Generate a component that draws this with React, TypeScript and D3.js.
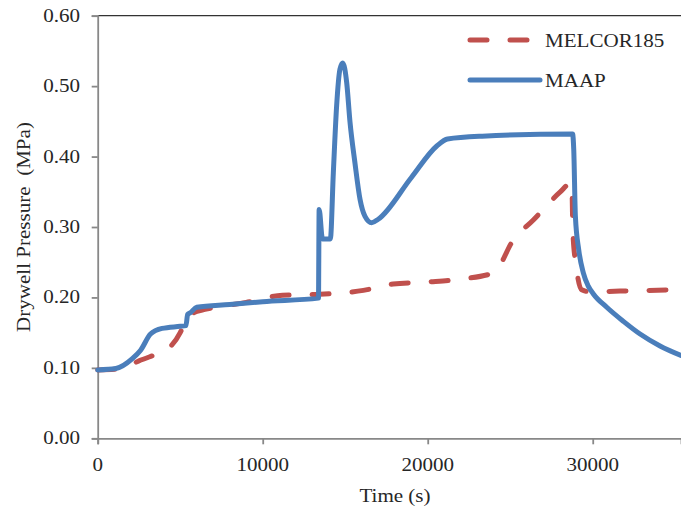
import React, { useEffect, useRef } from 'react';
import * as d3 from 'd3';

// MAAP drywell pressure (time s, MPa)
const maapTime = [0, 1100, 2100, 2600, 3200, 3900, 5000, 5350, 5450, 5600, 6000, 8000, 10000, 13380, 13420, 13620, 14100, 14280, 14480, 14680, 14850, 15090, 15290, 15590, 15900, 16200, 16600, 17000, 19000, 20550, 21200, 23300, 28780, 28850, 28950, 29150, 29430, 29730, 30040, 30850, 31860, 32870, 34080, 35350];
const maapValue = [0.097, 0.099, 0.113, 0.125, 0.148, 0.156, 0.159, 0.160, 0.176, 0.178, 0.186, 0.190, 0.194, 0.199, 0.325, 0.283, 0.283, 0.377, 0.472, 0.524, 0.533, 0.505, 0.449, 0.391, 0.339, 0.315, 0.306, 0.311, 0.370, 0.415, 0.425, 0.429, 0.432, 0.410, 0.315, 0.268, 0.235, 0.216, 0.205, 0.186, 0.166, 0.148, 0.131, 0.1175];

// MELCOR185 drywell pressure
const melcorTime = [0, 1500, 2500, 3300, 3900, 4400, 5000, 5200, 5450, 6000, 6500, 9000, 11200, 13000, 16100, 17900, 20000, 22000, 24000, 25200, 26400, 28000, 28730, 28800, 29000, 29330, 29840, 31650, 35350];
const melcorValue = [0.097, 0.099, 0.110, 0.117, 0.122, 0.130, 0.150, 0.160, 0.172, 0.180, 0.183, 0.193, 0.203, 0.204, 0.210, 0.219, 0.222, 0.226, 0.235, 0.282, 0.310, 0.349, 0.363, 0.292, 0.244, 0.211, 0.208, 0.209, 0.211];

const xTicks = [0, 10000, 20000, 30000];
const yTicks = [0, 0.1, 0.2, 0.3, 0.4, 0.5, 0.6];

const W = 681, H = 508;
const FONT = '"Liberation Serif", "Times New Roman", serif';
const RED = '#C0504D';
const BLUE = '#4A7EBB';

export default function App() {
  const ref = useRef<SVGSVGElement>(null);

  useEffect(() => {
    const svg = d3.select(ref.current);
    svg.selectAll('*').remove();

    const x = d3.scaleLinear().domain([0, 35350]).range([97.7, 681]);
    const y = d3.scaleLinear().domain([0, 0.6]).range([438.3, 15.7]);

    const txt = (g: any, s: string, tx: number, ty: number, anchor: string, rot = 0) =>
      g.append('text')
        .attr('transform', `translate(${tx},${ty}) rotate(${rot}) scale(1.17,1)`)
        .attr('text-anchor', anchor)
        .attr('font-family', FONT)
        .attr('font-size', 18)
        .attr('fill', '#262626')
        .style('white-space', 'pre')
        .text(s);

    // top frame line
    svg.append('line')
      .attr('x1', 97.7).attr('x2', W).attr('y1', y(0.6)).attr('y2', y(0.6))
      .attr('stroke', '#333').attr('stroke-width', 1.3);

    // y axis
    const yAxis = d3.axisLeft(y).tickValues(yTicks).tickSize(6).tickFormat(() => '');
    const gy = svg.append('g').attr('transform', `translate(${x(0)},0)`).call(yAxis);
    gy.selectAll('path, line').attr('stroke', '#888').attr('stroke-width', 1.8);
    yTicks.forEach(v => txt(svg, d3.format('.2f')(v), 80, y(v) + 6, 'end'));

    // x axis
    const xAxis = d3.axisBottom(x).tickValues(xTicks).tickSize(6).tickFormat(() => '');
    const gx = svg.append('g').attr('transform', `translate(0,${y(0)})`).call(xAxis);
    gx.selectAll('path, line').attr('stroke', '#888').attr('stroke-width', 1.8);
    xTicks.forEach(v => txt(svg, String(v), x(v), 471, 'middle'));

    txt(svg, 'Time (s)', 395, 502, 'middle');
    txt(svg, 'Drywell Pressure  (MPa)', 30, 227, 'middle', -90);

    const line = d3.line<[number, number]>()
      .x(d => x(d[0])).y(d => y(d[1]))
      .curve(d3.curveMonotoneX);

    const melcor = melcorTime.map((t, i) => [t, melcorValue[i]] as [number, number]);
    const maap = maapTime.map((t, i) => [t, maapValue[i]] as [number, number]);

    svg.append('path').attr('d', line(melcor))
      .attr('fill', 'none').attr('stroke', RED).attr('stroke-width', 5)
      .attr('stroke-dasharray', '17,23').attr('stroke-linecap', 'round');
    svg.append('path').attr('d', line(maap))
      .attr('fill', 'none').attr('stroke', BLUE).attr('stroke-width', 5)
      .attr('stroke-linejoin', 'round').attr('stroke-linecap', 'round');

    // legend
    svg.append('line').attr('x1', 470).attr('x2', 530).attr('y1', 40).attr('y2', 40)
      .attr('stroke', RED).attr('stroke-width', 5)
      .attr('stroke-dasharray', '17,23').attr('stroke-linecap', 'round');
    svg.append('line').attr('x1', 470).attr('x2', 540).attr('y1', 80).attr('y2', 80)
      .attr('stroke', BLUE).attr('stroke-width', 5).attr('stroke-linecap', 'round');
    txt(svg, 'MELCOR185', 545, 47, 'start');
    txt(svg, 'MAAP', 545, 87, 'start');
  }, []);

  return (
    <svg ref={ref} width={W} height={H}
      style={{ position: 'absolute', left: 0, top: 0, background: '#fff' }} />
  );
}
